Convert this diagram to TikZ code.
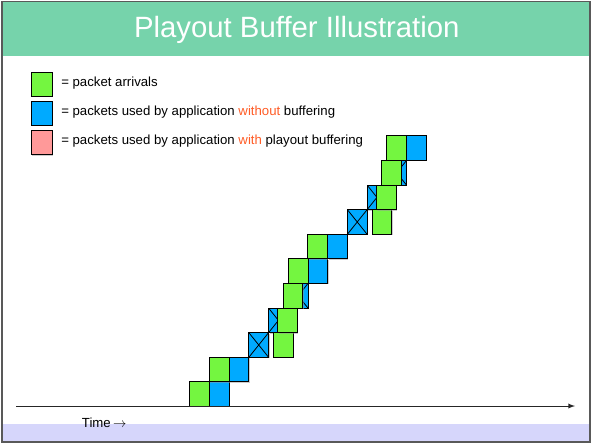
\documentclass[tikz,border=0pt]{standalone}
\usepackage{fontspec}
\setmainfont{Liberation Sans}
\usetikzlibrary{shadows}
\definecolor{pktgreen}{RGB}{116,246,64}
\definecolor{pktblue}{RGB}{0,170,255}
\definecolor{pktpink}{RGB}{255,153,153}
\definecolor{titlegreen}{RGB}{118,211,171}
\definecolor{footlav}{RGB}{214,214,251}
\definecolor{hiorange}{RGB}{255,92,38}

\begin{document}
\begin{tikzpicture}[x=0.75pt,y=-0.75pt,
    every node/.style={font=\fontsize{9.9}{12}\selectfont, inner sep=0pt},
    pkt/.style={draw=black, line width=0.7pt, anchor=north west,
        minimum width=14.8pt, minimum height=18.45pt,
        drop shadow={shadow xshift=0.7pt, shadow yshift=-0.7pt, fill=black!40}},
    arrival/.style={pkt, fill=pktgreen},
    played/.style={pkt, fill=pktblue},
    lost/.style={played, path picture={
        \draw[line width=0.6pt] (path picture bounding box.north west) -- (path picture bounding box.south east)
            (path picture bounding box.south west) -- (path picture bounding box.north east);}},
    keybox/.style={pkt, minimum width=15.5pt, minimum height=18pt}]
    \useasboundingbox (0,0) rectangle (592,444);
    % slide background
    \fill[titlegreen] (2,1.5) rectangle (590,55.7);
    \fill[footlav] (2,424.3) rectangle (590,442);
    \draw[black!65, line width=0.8pt] (2,1.5) rectangle (590,442);
    \node[anchor=base, text=white, font=\fontsize{22}{26}\selectfont] (title) at (296.8,37.3) {Playout Buffer Illustration};
    % legend
    \node[keybox, fill=pktgreen] (keyarr) at (31,71.7) {};
    \node[keybox, fill=pktblue] (keynobuf) at (31,101) {};
    \node[keybox, fill=pktpink] (keybuf) at (31,130.3) {};
    \node[anchor=base west] (keyarrtxt) at (61,86) {= packet arrivals};
    \node[anchor=base west] (keynobuftxt) at (61,115.2) {= packets used by application \textcolor{hiorange}{without} buffering};
    \node[anchor=base west] (keybuftxt) at (61,144.5) {= packets used by application \textcolor{hiorange}{with} playout buffering};
    % packets used without buffering (crossed = missed)
    \foreach \row/\kind in {1/played,2/played,3/lost,4/lost,5/lost,6/played,7/played,8/lost,9/lost,10/lost,11/played}
        \node[\kind] (use\row) at ({189.3+19.7*\row},{406-24.6*\row}) {};
    % packet arrivals
    \foreach \row/\ax in {1/189.3,2/209,3/273.3,4/277.3,5/282.7,6/288,7/307.3,8/371.7,9/376,10/381,11/386}
        \node[arrival] (arr\row) at (\ax,{406-24.6*\row}) {};
    % time axis
    \coordinate (tstart) at (16,406);
    \coordinate (tend) at (575,406);
    \draw[-latex, line width=0.75pt, black!85] (tstart) -- (tend);
    \node[anchor=base west] (timelbl) at (81.7,427.3) {Time\,$\rightarrow$};
\end{tikzpicture}
\end{document}
